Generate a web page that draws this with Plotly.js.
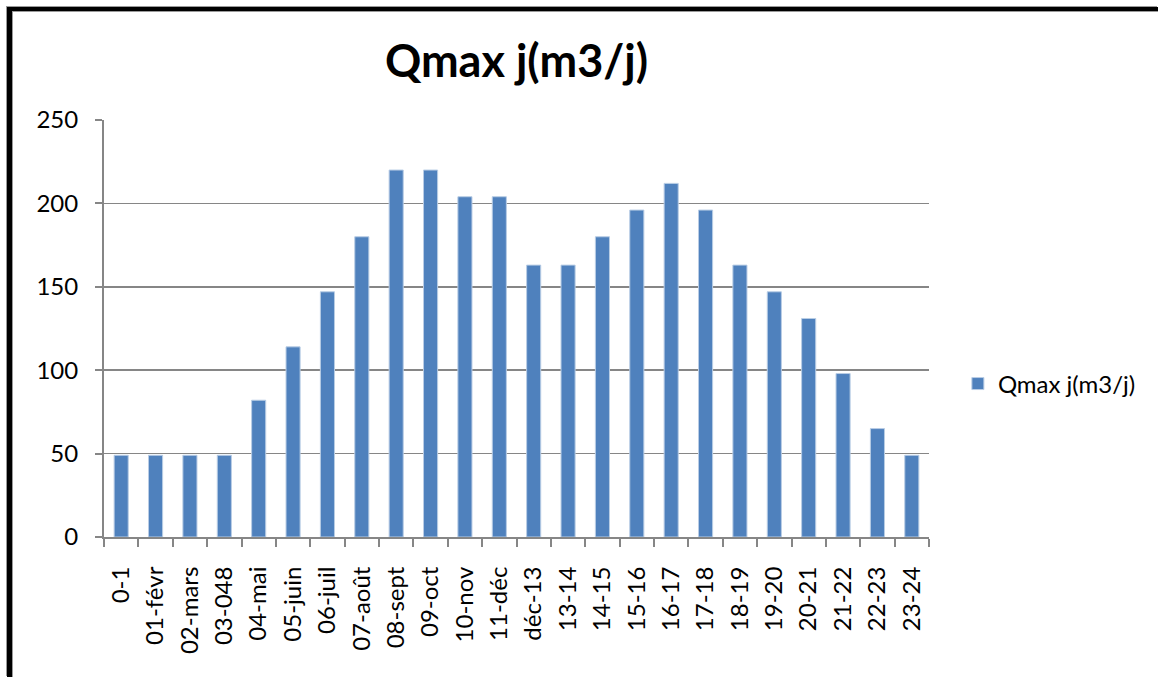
<!DOCTYPE html>
<html>
<head>
<meta charset="utf-8">
<script src="https://cdn.plot.ly/plotly-3.0.1.min.js"></script>
<style>
  html, body { margin: 0; padding: 0; background: #fff; }
  #chart { width: 1158px; height: 677px; position: absolute; left: 0; top: 0; }
  #frame { position: absolute; left: 7px; top: 7px; width: 1151px; height: 670px;
           border-left: 5px solid #000; border-top: 4px solid #000;
           box-shadow: inset 1px 1px 0 #9a9a9a, -1px -1px 0 #9a9a9a; pointer-events: none; box-sizing: border-box; }
</style>
</head>
<body>
<div id="chart"></div>
<div id="frame"></div>
<script>
const categories = ["0-1","01-févr","02-mars","03-048","04-mai","05-juin","06-juil","07-août","08-sept","09-oct","10-nov","11-déc","déc-13","13-14","14-15","15-16","16-17","17-18","18-19","19-20","20-21","21-22","22-23","23-24"];
const qmax = [49,49,49,49,82,114,147,180,220,220,204,204,163,163,180,196,212,196,163,147,131,98,65,49];
const seriesName = "Qmax j(m3/j)";
const chartTitle = "Qmax j(m3/j)";

const FONT = "Lato, 'Open Sans', sans-serif";
const trace = {
  type: "bar",
  x: categories,
  y: qmax,
  name: seriesName,
  marker: { color: "#4F81BD", line: { color: "#B9CDE5", width: 1 } },
  showlegend: true
};
const layout = {
  width: 1158, height: 677,
  margin: { l: 104, r: 229, t: 120, b: 140, pad: 0 },
  paper_bgcolor: "#fff", plot_bgcolor: "#fff",
  title: { text: "<b>" + chartTitle + "</b>", x: 0.5, xref: "paper", xanchor: "center", y: 0.91, yanchor: "middle",
           font: { family: FONT, size: 45, color: "#000" } },
  bargap: 0.59,
  showlegend: true,
  legend: { x: 1.035, xanchor: "left", y: 0.367, yanchor: "middle", font: { family: FONT, size: 24, color: "#000" },
            itemwidth: 30, bgcolor: "rgba(0,0,0,0)" },
  xaxis: {
    type: "category", tickson: "boundaries", ticks: "outside", ticklen: 8, tickcolor: "#868686", tickwidth: 2,
    showline: true, linecolor: "#868686", linewidth: 2, showgrid: false,
    tickangle: -90, ticklabelstandoff: 18,
    tickfont: { family: FONT, size: 24, color: "#000" }
  },
  yaxis: {
    range: [0, 250], dtick: 50, tick0: 0, ticks: "outside", ticklen: 7, tickcolor: "#868686", tickwidth: 2,
    showline: true, linecolor: "#868686", linewidth: 2,
    showgrid: true, gridcolor: "#868686", gridwidth: 1.5, zeroline: false,
    ticklabelstandoff: 12,
    tickfont: { family: FONT, size: 24, color: "#000" }
  }
};
Plotly.newPlot("chart", [trace], layout, { displayModeBar: false, staticPlot: true });
</script>
</body>
</html>
